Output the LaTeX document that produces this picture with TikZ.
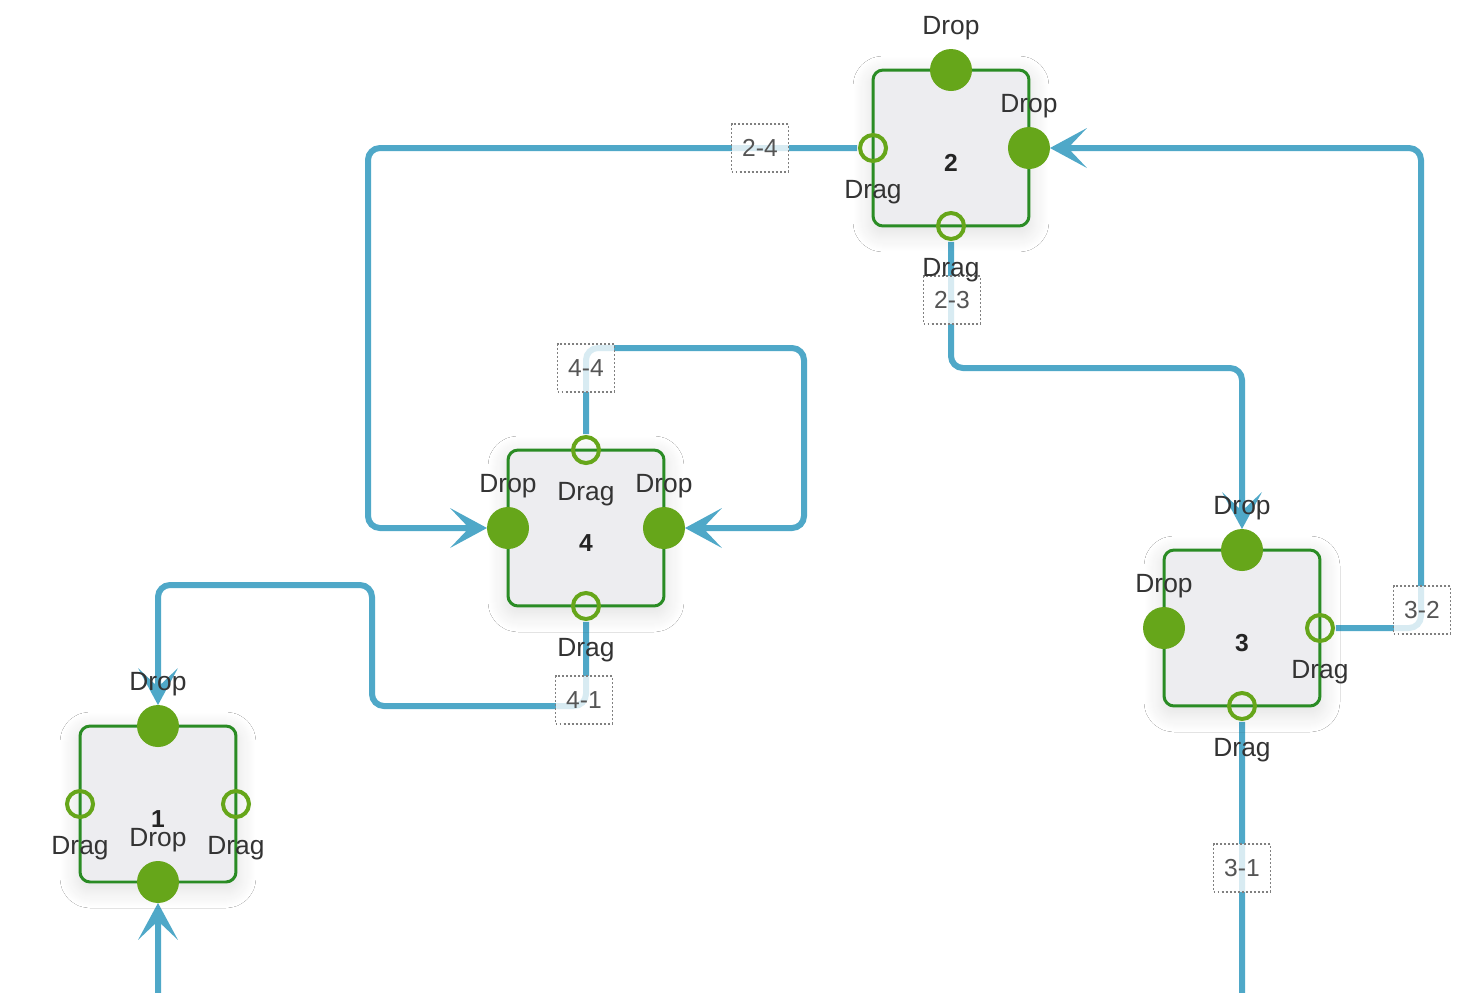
\documentclass[tikz,border=0pt]{standalone}
\usepackage{fontspec}
\setmainfont{Liberation Sans}
\usetikzlibrary{arrows.meta,backgrounds,shadows.blur}
\definecolor{wire}{HTML}{4FA8C8}
\definecolor{boxline}{HTML}{2A8C24}
\definecolor{boxfill}{HTML}{EDEDF0}
\definecolor{port}{HTML}{66A61A}
\definecolor{ink}{HTML}{333333}
\definecolor{tagink}{HTML}{555555}
\definecolor{tagline}{HTML}{808080}
\newcommand{\labelsize}{\fontsize{15pt}{17pt}\selectfont}
\newcommand{\tagsize}{\fontsize{14pt}{16pt}\selectfont}
\tikzset{
  block/.style={draw=boxline,fill=boxfill,line width=0.06cm,rounded corners=0.2cm,
    minimum size=3.12cm,inner sep=0pt,outer sep=0pt,font=\tagsize\bfseries,text=ink!70!black,
    text height=0.95cm,text depth=0pt,
    blur shadow={shadow xshift=0pt,shadow yshift=-0.12cm,shadow blur radius=0.4cm,
      shadow blur steps=20,shadow opacity=14}},
  porttext/.style={font=\labelsize,text=ink,inner sep=0pt},
  drop/.style={circle,fill=port,minimum size=0.84cm,inner sep=0pt,outer sep=0pt,
    label={[porttext,label distance=0.17cm]above:Drop}},
  drag/.style={circle,draw=port,line width=0.08cm,minimum size=0.52cm,inner sep=0pt,outer sep=0.06cm,
    label={[porttext,label distance=0.32cm]below:Drag}},
  link/.style={draw=wire,line width=0.12cm,rounded corners=0.24cm,
    -{Stealth[length=0.74cm,width=0.8cm,inset=0.38cm,line width=0pt]}},
  tag/.style={draw=tagline,line width=1.1pt,dash pattern=on 1.1pt off 1.2pt,fill=white,
    fill opacity=0.78,text opacity=1,text=tagink,minimum width=1.14cm,minimum height=0.96cm,
    inner sep=0pt,font=\tagsize}
}

\begin{document}
\begin{tikzpicture}[x=0.02cm,y=-0.02cm]
\useasboundingbox (0,0) rectangle (1482,992);
\node[tag] (t24) at (760,148) {2-4};
\node[tag] (t23) at (952,300) {2-3};
\node[tag] (t44) at (586,368) {4-4};
\node[tag] (t41) at (584,700) {4-1};
\node[tag] (t32) at (1422,610) {3-2};
\node[tag] (t31) at (1242,868) {3-1};
\node[block] (b2) at (951,148) {2};
\node[block] (b4) at (586,528) {4};
\node[block] (b1) at (158,804) {1};
\node[block] (b3) at (1242,628) {3};
\node[drop] (d2t) at (b2.north) {};
\node[drop] (d2r) at (b2.east) {};
\node[drag] (g2l) at (b2.west) {};
\node[drag] (g2b) at (b2.south) {};
\node[drop] (d4l) at (b4.west) {};
\node[drop] (d4r) at (b4.east) {};
\node[drag] (g4t) at (b4.north) {};
\node[drag] (g4b) at (b4.south) {};
\node[drop] (d1t) at (b1.north) {};
\node[drop] (d1b) at (b1.south) {};
\node[drag] (g1l) at (b1.west) {};
\node[drag] (g1r) at (b1.east) {};
\node[drop] (d3t) at (b3.north) {};
\node[drop] (d3l) at (b3.west) {};
\node[drag] (g3r) at (b3.east) {};
\node[drag] (g3b) at (b3.south) {};
\begin{pgfonlayer}{background}
\fill[white] (0,0) rectangle (1482,992);
\draw[link] (g2l) -- (368,148) -- (368,528) -- (d4l);
\draw[link] (g2b) -- (951,368) -- (1242,368) -- (d3t);
\draw[link] (g4t) -- (586,348) -- (804,348) -- (804,528) -- (d4r);
\draw[link] (g4b) -- (586,706) -- (372,706) -- (372,585) -- (158,585) -- (d1t);
\draw[link] (g3r) -- (1421,628) -- (1421,148) -- (d2r);
\begin{scope}
\clip (0,0) rectangle (1482,992);
\draw[link] (g3b) -- (1242,1060) -- (158,1060) -- (d1b);
\end{scope}
\end{pgfonlayer}
\end{tikzpicture}
\end{document}
